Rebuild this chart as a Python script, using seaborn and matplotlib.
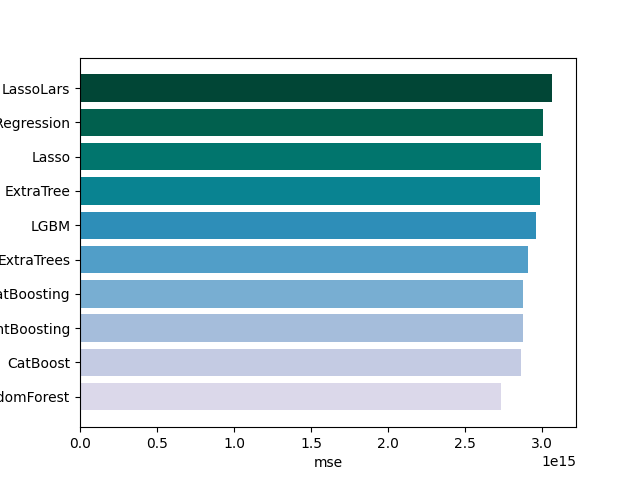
import numpy as np
import pandas as pd
import matplotlib
matplotlib.use("Agg")
import matplotlib.pyplot as plt
import seaborn as sns

# model names, top to bottom
models = ['LassoLars', 'LinearRegression', 'Lasso', 'ExtraTree', 'LGBM',
          'ExtraTrees', 'CatBoosting', 'GradientBoosting', 'CatBoost', 'RandomForest']
mse = [3.065e15, 3.006e15, 2.994e15, 2.987e15, 2.961e15,
       2.909e15, 2.877e15, 2.876e15, 2.864e15, 2.734e15]

df = pd.DataFrame({'model': models, 'mse': mse})

# PuBuGn sampled from 0.2 to 1.0, darkest on top
colors = [tuple(c) for c in plt.cm.PuBuGn(np.linspace(0.2, 1.0, len(models)))[::-1]]

fig, ax = plt.subplots(figsize=(6.4, 4.8), dpi=100)
sns.barplot(data=df, x='mse', y='model', hue='model', palette=colors,
            saturation=1, legend=False, ax=ax)

# match matplotlib barh spacing (0.05 margins)
n = len(models)
pad = 0.05 * (n - 1 + 0.8)
ax.set_ylim(n - 1 + 0.4 + pad, -0.4 - pad)
ax.set_ylabel('')
ax.set_xlabel('mse')

plt.savefig('out.png')
